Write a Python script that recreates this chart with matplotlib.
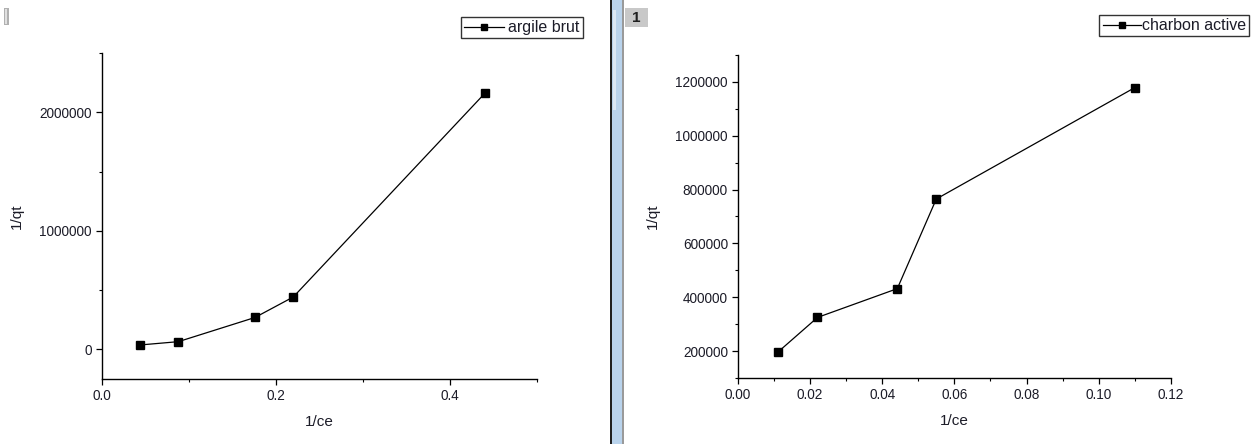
import matplotlib
matplotlib.use("Agg")
import matplotlib.pyplot as plt
from matplotlib.patches import Rectangle
from matplotlib.ticker import MultipleLocator, ScalarFormatter, FormatStrFormatter

plt.rcParams["font.family"] = ["Liberation Sans", "DejaVu Sans"]

# Linearised isotherm data (1/ce vs 1/qt)
argile_x = [0.044, 0.088, 0.176, 0.22, 0.44]
argile_y = [37000, 65000, 269000, 442000, 2161000]

charbon_x = [0.0112, 0.0221, 0.0442, 0.055, 0.110]
charbon_y = [197000, 325000, 432000, 765000, 1179000]

W, H = 1252, 444
fig = plt.figure(figsize=(W / 100, H / 100), dpi=100)
TXT = "#1c1c28"


def style_axes(ax):
    for s in ("top", "right"):
        ax.spines[s].set_visible(False)
    for s in ("left", "bottom"):
        ax.spines[s].set_linewidth(1.0)
        ax.spines[s].set_color("black")
    ax.tick_params(which="major", direction="out", length=4, width=0.9,
                   labelsize=9.8, colors="black", labelcolor=TXT, pad=3)
    ax.tick_params(which="minor", direction="out", length=2.5, width=0.8)
    fmt = ScalarFormatter(useOffset=False)
    fmt.set_scientific(False)
    ax.yaxis.set_major_formatter(fmt)
    ax.set_xlabel("1/ce", fontsize=11, color=TXT, labelpad=9)
    ax.set_ylabel("1/qt", fontsize=11, color=TXT, labelpad=11)


def add_legend(ax, box, pad, hlen):
    x0, y0, x1, y1 = box
    leg = ax.legend(loc="upper right",
                    bbox_to_anchor=(x1 / W, 1 - y0 / H),
                    bbox_transform=fig.transFigure,
                    fontsize=11.5, frameon=True, fancybox=False,
                    handlelength=hlen, handletextpad=pad,
                    borderpad=0.2, borderaxespad=0, markerscale=0.85)
    leg.get_frame().set_edgecolor("black")
    leg.get_frame().set_linewidth(1.0)
    for t in leg.get_texts():
        t.set_color(TXT)


# left panel: argile brut
ax1 = fig.add_axes([101.7 / W, 1 - 379 / H, 435.5 / W, 326 / H])
ax1.plot(argile_x, argile_y, "-s", color="black", lw=0.9,
         markersize=5.8, label="argile brut")
ax1.set_xlim(0, 0.5)
ax1.set_ylim(-250000, 2500000)
ax1.xaxis.set_major_locator(MultipleLocator(0.2))
ax1.xaxis.set_minor_locator(MultipleLocator(0.1))
ax1.yaxis.set_major_locator(MultipleLocator(1000000))
ax1.yaxis.set_minor_locator(MultipleLocator(500000))
style_axes(ax1)
ax1.xaxis.set_major_formatter(FormatStrFormatter("%.1f"))
add_legend(ax1, (453, 17, 583, 39), 0.3, 2.5)

# right panel: charbon active
ax2 = fig.add_axes([737.7 / W, 1 - 378 / H, 433.3 / W, 323 / H])
ax2.plot(charbon_x, charbon_y, "-s", color="black", lw=0.9,
         markersize=5.8, label="charbon active")
ax2.set_xlim(0, 0.12)
ax2.set_ylim(100000, 1300000)
ax2.xaxis.set_major_locator(MultipleLocator(0.02))
ax2.xaxis.set_minor_locator(MultipleLocator(0.01))
ax2.yaxis.set_major_locator(MultipleLocator(200000))
ax2.yaxis.set_minor_locator(MultipleLocator(100000))
style_axes(ax2)
ax2.xaxis.set_major_formatter(FormatStrFormatter("%.2f"))
add_legend(ax2, (1087, 15, 1249, 39), 0.05, 2.4)

# window chrome: splitter bar between the two graph windows
def px_rect(x0, y0, x1, y1, **kw):
    fig.patches.append(Rectangle((x0 / W, 1 - y1 / H), (x1 - x0) / W,
                                 (y1 - y0) / H, transform=fig.transFigure,
                                 **kw))

px_rect(610, 0, 612, H, color="#202020", lw=0)
px_rect(612, 0, 622, H, color="#b9d3ec", lw=0)
px_rect(613, 10, 616, 110, color="#dbe8f5", lw=0)
px_rect(622, 0, 624, H, color="#9a9a9a", lw=0)
px_rect(625, 8, 648, 27, color="#c8c8c8", lw=0)
fig.text(636 / W, 1 - 17.5 / H, "1", fontsize=11, fontweight="bold",
         ha="center", va="center", color="#202020")
px_rect(4, 8, 9, 25, color="#b0b0b0", lw=0)
px_rect(5, 9, 7, 24, color="#e0e0e0", lw=0)

fig.savefig("out.png", dpi=100)
